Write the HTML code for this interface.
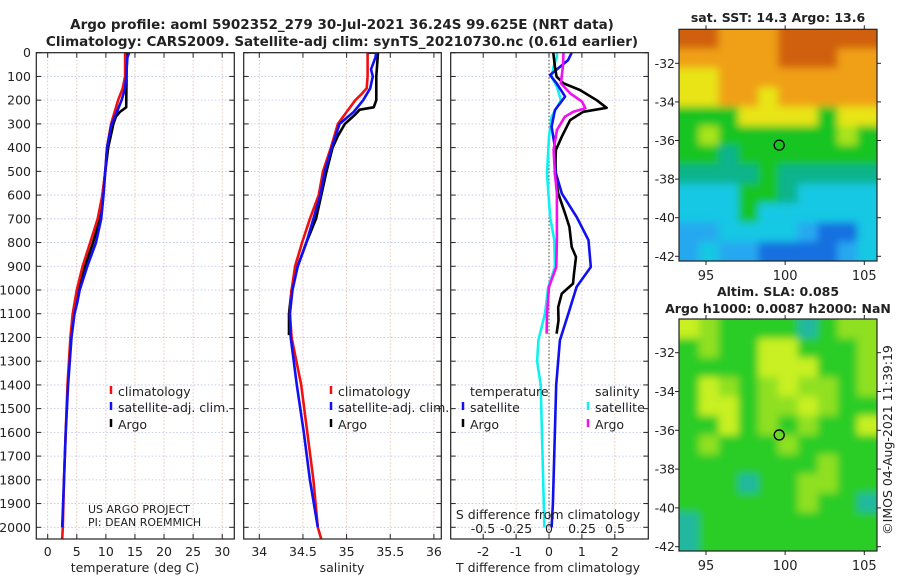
<!DOCTYPE html>
<html><head><meta charset="utf-8">
<style>
html,body{margin:0;padding:0;background:#fff;}
svg{display:block;font-family:"DejaVu Sans","Liberation Sans",sans-serif;}
</style></head>
<body>
<svg id="fig" width="900" height="580" viewBox="0 0 900 580" xmlns="http://www.w3.org/2000/svg">
<defs>
<clipPath id="c1"><rect x="36.3" y="52.7" width="198" height="486.3"/></clipPath>
<clipPath id="c2"><rect x="243.7" y="52.7" width="197.6" height="486.3"/></clipPath>
<clipPath id="c3"><rect x="450.7" y="52.7" width="197.6" height="486.3"/></clipPath>
<clipPath id="cm1"><rect x="679" y="29.3" width="198" height="231.7"/></clipPath>
<clipPath id="cm2"><rect x="679" y="319" width="198" height="232"/></clipPath>
<filter id="blur" filterUnits="userSpaceOnUse" x="660" y="0" width="240" height="580"><feGaussianBlur stdDeviation="4"/></filter>
</defs>
<g id="root"></g>
</svg>
<script>
// ---- data (depth m, value) ----
const tClimDepth = [0,100,150,200,250,300,400,500,600,700,800,900,1000,1100,1200,1400,1600,1800,2000,2050];
const tClimVal   = [13.3,13.3,12.9,12.1,11.5,10.9,10.2,9.9,9.4,8.6,7.3,6.0,5.0,4.3,3.9,3.4,3.1,2.8,2.6,2.5];
const tSatDepth  = [0,20,100,150,200,250,300,400,500,600,700,800,900,1000,1050,1100,1200,1400,1600,1800,2000];
const tSatVal    = [14.0,13.7,13.5,13.3,12.7,11.9,11.0,10.2,9.9,9.6,9.2,8.3,6.8,5.5,5.1,4.6,4.1,3.5,3.1,2.8,2.5];
const tArgoDepth = [0,230,250,270,300,400,500,600,700,800,900,1000,1100,1190];
const tArgoVal   = [13.6,13.5,12.4,11.7,11.3,10.4,9.9,9.4,9.0,7.8,6.4,5.1,4.4,4.0];

const sClimDepth = [0,100,150,175,200,250,300,400,500,600,700,800,900,1000,1100,1200,1400,1600,1800,2000,2050];
const sClimVal   = [35.24,35.24,35.23,35.17,35.10,35.0,34.9,34.82,34.73,34.68,34.58,34.49,34.41,34.37,34.35,34.37,34.48,34.55,34.62,34.67,34.71];
const sSatDepth  = [0,0,20,50,70,100,150,200,250,300,400,500,600,700,800,900,1000,1100,1200,1400,1600,1800,2000];
const sSatVal    = [35.24,35.34,35.33,35.30,35.28,35.30,35.27,35.19,35.08,34.92,34.83,34.75,34.70,34.62,34.54,34.44,34.38,34.35,34.36,34.43,34.51,34.58,34.67];
const sArgoDepth = [0,100,200,230,240,260,300,350,400,500,600,700,800,900,1000,1100,1190];
const sArgoVal   = [35.36,35.34,35.34,35.31,35.15,35.10,34.98,34.9,34.84,34.77,34.71,34.65,34.54,34.44,34.37,34.34,34.34];

const dTSatDepth  = [0,31,94,129,185,242,312,397,508,593,692,790,903,987,1099,1212,1400,1900,2000];
const dTSatVal    = [0.69,0.58,0.03,0.23,0.49,0.18,0.08,0.18,0.21,0.39,0.84,1.2,1.27,0.84,0.59,0.33,0.22,0.12,0.08];
const dTArgoDepth = [0,59,101,129,157,200,232,249,284,354,410,509,593,678,734,819,861,931,973,1015,1072,1128,1184];
const dTArgoVal   = [0.13,0.18,0.23,0.44,0.94,1.45,1.75,1.04,0.64,0.39,0.21,0.18,0.28,0.49,0.62,0.69,0.82,0.76,0.73,0.39,0.28,0.29,0.23];
const dSSatDepth  = [0,17,59,101,143,200,270,354,509,692,790,903,987,1099,1212,1300,1400,2000];
const dSSatVal    = [0.06,0.06,0.035,0.02,0.06,0.09,0.02,0.0,-0.015,0.008,0.04,0.045,-0.005,-0.03,-0.08,-0.09,-0.063,-0.035];
const dSArgoDepth = [0,59,129,171,206,234,249,270,326,410,509,593,692,790,903,987,1099,1184];
const dSArgoVal   = [0.11,0.105,0.09,0.16,0.25,0.275,0.185,0.12,0.06,0.035,0.045,0.06,0.06,0.06,0.055,0.0,-0.015,-0.018];

const depthTicks = [0,100,200,300,400,500,600,700,800,900,1000,1100,1200,1300,1400,1500,1600,1700,1800,1900,2000];
const tTicks = [0,5,10,15,20,25,30];
const sTicks = [34,34.5,35,35.5,36];
const sTickLabels = ["34","34.5","35","35.5","36"];
const dTTicks = [-2,-1,0,1,2];
const dSTicks = [-0.5,-0.25,0,0.25,0.5];
const dSTickLabels = ["-0.5","-0.25","0","0.25","0.5"];
const latTicks = [-32,-34,-36,-38,-40,-42];
const lonTicks = [95,100,105];
const floatLon = 99.625, floatLat = -36.24;

// map colour grids (coarse)
const sstGrid = [
 "RROOORRRRR","OOOOORRROO","YYOOOOOOOO","YYOOYOOOOO","GGGYYYYGYY","GLGGGGGGLG",
 "GGTGGGGGGG","TTTTGTTTTT","CCCGGTCCCC","CCCGCCCCCC","BBCCCCBDDC","BCBBDDDDBC"];
const sstColors = {R:"#d0600c",O:"#f0a014",Y:"#e8e414",L:"#a8e41c",G:"#18c424",T:"#10b48c",C:"#14c8e4",B:"#28a8f0",D:"#1470e0"};
const slaGrid = [
 "YLGGGGTGLL","GLGGYYGGGL","GGGGYYYGGL","GYLGLYLLGL","GYYGLLYLGG","GGYGLGLGGY",
 "GLGGGLGGGG","GGGGGGGLGG","GGGTGGLLGG","GGGGGGLGGT","TGGGGGGGGG","TGGGGGGGGG"];
const slaColors = {G:"#2ccc28",Y:"#c8f020",L:"#90e020",T:"#20b8a0"};

// ---- scales ----
const yD = d => 52.7 + d*0.2373;
const xT = v => 47.7 + v*5.817;
const xS = v => 259.3 + (v-34)*87.3;
const xDT = v => 549 + v*32.9;
const xDS = v => 549 + v*132;
const mx = lon => 706 + (lon-95)*15.83;
const my1 = lat => 63.3 + (-32-lat)*19.3;
const my2 = lat => 352.7 + (-32-lat)*19.4;

const NS="http://www.w3.org/2000/svg";
const root=document.getElementById('root');
function mk(tag,attrs,parent){const e=document.createElementNS(NS,tag);for(const k in attrs)e.setAttribute(k,attrs[k]);(parent||root).appendChild(e);return e;}
function txt(s,x,y,size,anchor,weight,parent){const e=mk('text',{x:x,y:y,'font-size':size,'text-anchor':anchor||'start','font-weight':weight||'normal',fill:'#222'},parent);e.textContent=s;return e;}

// titles
let e;
e=txt("Argo profile: aoml 5902352_279 30-Jul-2021 36.24S 99.625E (NRT data)",342,29,13.5,'middle','bold');


e=txt("Climatology: CARS2009. Satellite-adj clim: synTS_20210730.nc (0.61d earlier)",342,46,13.5,'middle','bold');



function panel(name,x0,x1,clip,vgrid){
  const g=mk('g',{});
  
  
  const y0=52.7,y1=539;
  depthTicks.forEach(d=>{mk('line',{x1:x0,x2:x1,y1:yD(d),y2:yD(d),stroke:'#b8c0e8','stroke-width':0.8,'stroke-dasharray':'1.5,2'},g);});
  vgrid.forEach(x=>{mk('line',{x1:x,x2:x,y1:y0,y2:y1,stroke:'#e0b8a8','stroke-width':0.8,'stroke-dasharray':'1.5,2'},g);});
  depthTicks.forEach(d=>{mk('line',{x1:x0,x2:x0+5,y1:yD(d),y2:yD(d),stroke:'#222'},g);mk('line',{x1:x1-5,x2:x1,y1:yD(d),y2:yD(d),stroke:'#222'},g);});
  vgrid.forEach(x=>{mk('line',{x1:x,x2:x,y1:y1,y2:y1-5,stroke:'#222'},g);mk('line',{x1:x,x2:x,y1:y0,y2:y0+5,stroke:'#222'},g);});
  const lines=mk('g',{'clip-path':'url(#'+clip+')'},g);
  mk('rect',{x:x0,y:y0,width:x1-x0,height:y1-y0,fill:'none',stroke:'#222','stroke-width':1.2},g);
  return lines;
}
function series(parent,name,depths,vals,xf,color){
  const pts=depths.map((d,i)=>xf(vals[i]).toFixed(1)+','+yD(d).toFixed(1)).join(' ');
  const p=mk('polyline',{points:pts,fill:'none',stroke:color,'stroke-width':2.6,'stroke-linejoin':'round'},parent);
  
  
}

// panel 1
const p1=panel('temperature-panel',36.3,234.3,'c1',tTicks.map(xT));
series(p1,'temperature-argo-line',tArgoDepth,tArgoVal,xT,'#000');
series(p1,'temperature-climatology-line',tClimDepth,tClimVal,xT,'#f01010');
series(p1,'temperature-satellite-line',tSatDepth,tSatVal,xT,'#1010f0');
depthTicks.forEach(d=>{e=txt(String(d),31,yD(d)+4.5,12.5,'end');});
tTicks.forEach(v=>{e=txt(String(v),xT(v),556,12.5,'middle');});
e=txt("temperature (deg C)",135,572,12.5,'middle');

// panel 2
const p2=panel('salinity-panel',243.7,441.3,'c2',sTicks.map(xS));
series(p2,'salinity-argo-line',sArgoDepth,sArgoVal,xS,'#000');
series(p2,'salinity-climatology-line',sClimDepth,sClimVal,xS,'#f01010');
series(p2,'salinity-satellite-line',sSatDepth,sSatVal,xS,'#1010f0');
sTicks.forEach((v,i)=>{e=txt(sTickLabels[i],xS(v),556,12.5,'middle');});
e=txt("salinity",342,572,12.5,'middle');

// panel 3
const p3=panel('difference-panel',450.7,648.3,'c3',dTTicks.map(xDT));
mk('line',{x1:549,x2:549,y1:52.7,y2:539,stroke:'#444','stroke-width':1,'stroke-dasharray':'1.5,2'},p3);
series(p3,'s-diff-satellite-line',dSSatDepth,dSSatVal,xDS,'#10f0f0');
series(p3,'t-diff-satellite-line',dTSatDepth,dTSatVal,xDT,'#1010f0');
series(p3,'t-diff-argo-line',dTArgoDepth,dTArgoVal,xDT,'#000');
series(p3,'s-diff-argo-line',dSArgoDepth,dSArgoVal,xDS,'#f010f0');
dTTicks.forEach(v=>{e=txt(String(v),xDT(v),556,12.5,'middle');});
dSTicks.forEach((v,i)=>{e=txt(dSTickLabels[i],xDS(v),533,12.5,'middle');});
e=txt("S difference from climatology",548,519,12.5,'middle');
e=txt("T difference from climatology",548,572,12.5,'middle');

// legends
function legEntry(name,x,y,color,label){
  const g=mk('g',{});
  
  
  if(color) mk('line',{x1:x,x2:x,y1:y-10,y2:y-2,stroke:color,'stroke-width':2.5},g);
  txt(label,x+7,y,12.5,'start','normal',g);
}
legEntry('legend-entry-climatology',111,396,'#f01010','climatology');
legEntry('legend-entry-satellite-adj',111,412,'#1010f0','satellite-adj. clim.');
legEntry('legend-entry-argo',111,429,'#000','Argo');
legEntry('legend-entry-climatology-2',331,396,'#f01010','climatology');
legEntry('legend-entry-satellite-adj-2',331,412,'#1010f0','satellite-adj. clim.');
legEntry('legend-entry-argo-2',331,429,'#000','Argo');
legEntry('legend-heading-temperature',463,396,null,'temperature');
legEntry('legend-entry-t-satellite',463,412,'#1010f0','satellite');
legEntry('legend-entry-t-argo',463,429,'#000','Argo');
legEntry('legend-heading-salinity',588,396,null,'salinity');
legEntry('legend-entry-s-satellite',588,412,'#10f0f0','satellite');
legEntry('legend-entry-s-argo',588,429,'#f010f0','Argo');
e=txt("US ARGO PROJECT",88,513,11,'start');
e=txt("PI: DEAN ROEMMICH",88,526,11,'start');

// maps
function drawMap(name,grid,colors,y0,h,clip,myf,labY){
  const g=mk('g',{});
  
  
  const x0=679,w=198;
  const cg=mk('g',{'clip-path':'url(#'+clip+')'},g);
  const fg=mk('g',{filter:'url(#blur)'},cg);
  const rows=grid.length,cols=grid[0].length,cw=w/cols,ch=h/rows;
  mk('rect',{x:x0-10,y:y0-10,width:w+20,height:h+20,fill:colors[grid[0][0]]},fg);
  for(let r=0;r<rows;r++)for(let c=0;c<cols;c++){
    const cx=x0+c*cw-(c==0?8:0), cy=y0+r*ch-(r==0?8:0);
    mk('rect',{x:cx,y:cy,width:cw+1+(c==0?8:0)+(c==cols-1?8:0),height:ch+1+(r==0?8:0)+(r==rows-1?8:0),fill:colors[grid[r][c]]},fg);
  }
  mk('rect',{x:x0,y:y0,width:w,height:h,fill:'none',stroke:'#222','stroke-width':1.2},g);
  latTicks.forEach(l=>{const y=myf(l);mk('line',{x1:x0-4,x2:x0,y1:y,y2:y,stroke:'#222'},g);mk('line',{x1:x0+w,x2:x0+w+4,y1:y,y2:y,stroke:'#222'},g);
    txt(String(l),675,y+4.5,12.5,'end','normal',g);});
  lonTicks.forEach(l=>{const x=mx(l);mk('line',{x1:x,x2:x,y1:y0+h,y2:y0+h+4,stroke:'#222'},g);mk('line',{x1:x,x2:x,y1:y0-4,y2:y0,stroke:'#222'},g);
    txt(String(l),x,labY,13,'middle','normal',g);});
  const m=mk('circle',{cx:mx(floatLon),cy:myf(floatLat),r:5,fill:'none',stroke:'#000','stroke-width':1.3},g);
  
  
}
drawMap('sst-map',sstGrid,sstColors,29.3,231.7,'cm1',my1,280);
drawMap('sla-map',slaGrid,slaColors,319,232,'cm2',my2,570);
e=txt("sat. SST: 14.3 Argo: 13.6",778,22,12.5,'middle','bold');
e=txt("Altim. SLA: 0.085",778,296,12.5,'middle','bold');
e=txt("Argo h1000: 0.0087 h2000: NaN",778,313,12.5,'middle','bold');
e=txt("©IMOS 04-Aug-2021 11:39:19",0,0,12.5,'middle');
e.setAttribute('transform','translate(892,440) rotate(-90)');


</script>
</body></html>
